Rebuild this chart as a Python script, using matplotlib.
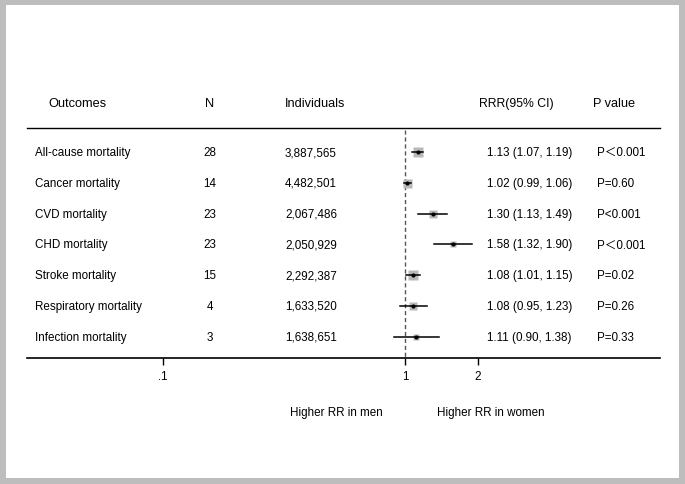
import matplotlib
matplotlib.use("Agg")
import matplotlib.pyplot as plt
from matplotlib.patches import Rectangle

plt.rcParams['font.family'] = ['Liberation Sans', 'Noto Sans CJK SC', 'DejaVu Sans']

# data
outcomes = ['All-cause mortality', 'Cancer mortality', 'CVD mortality', 'CHD mortality',
            'Stroke mortality', 'Respiratory mortality', 'Infection mortality']
n_studies = ['28', '14', '23', '23', '15', '4', '3']
individuals = ['3,887,565', '4,482,501', '2,067,486', '2,050,929',
               '2,292,387', '1,633,520', '1,638,651']
rrr = [1.13, 1.02, 1.30, 1.58, 1.08, 1.08, 1.11]
lo = [1.07, 0.99, 1.13, 1.32, 1.01, 0.95, 0.90]
hi = [1.19, 1.06, 1.49, 1.90, 1.15, 1.23, 1.38]
p_text = ['P\uff1c0.001', 'P=0.60', 'P<0.001', 'P\uff1c0.001', 'P=0.02', 'P=0.26', 'P=0.33']
weights = [10, 9, 8, 6, 9.5, 8, 6.5]   # box sizes in px
ticks = [0.1, 1, 2]
tick_labels = ['.1', '1', '2']

fig = plt.figure(figsize=(6.85, 4.85), dpi=100)
fig.patch.set_facecolor('#bdbdbd')
fig.patches.append(Rectangle((6 / 685, 6 / 485), 673 / 685, 473 / 485,
                             transform=fig.transFigure, facecolor='white',
                             edgecolor='none', zorder=-10))

ax = fig.add_axes([27 / 685, 126 / 485, 633 / 685, 269 / 485])
ax.set_zorder(5)
ax.set_facecolor('none')
ax.set_xscale('log')
ax.set_xlim(0.0274, 11.32)
ax.set_ylim(6.69, -2.05)

for s in ['top', 'left', 'right']:
    ax.spines[s].set_visible(False)
ax.spines['bottom'].set_linewidth(1.2)
ax.set_yticks([])
ax.set_xticks(ticks)
ax.set_xticklabels(tick_labels)
ax.minorticks_off()
ax.tick_params(axis='x', length=5, width=1, pad=4, labelsize=8.4)

fs = 8.4
hfs = 9.2
tr = ax.get_yaxis_transform()

# header
ax.text(0.0332, -1.59, 'Outcomes', transform=tr, fontsize=hfs, va='center')
ax.text(0.289, -1.59, 'N', transform=tr, fontsize=hfs, va='center', ha='center')
ax.text(0.4076, -1.59, 'Individuals', transform=tr, fontsize=hfs, va='center')
ax.text(0.714, -1.59, 'RRR(95% CI)', transform=tr, fontsize=8.8, va='center')
ax.text(0.894, -1.59, 'P value', transform=tr, fontsize=hfs, va='center')
ax.plot([0, 1], [-0.78, -0.78], transform=tr, color='black', lw=1, clip_on=False)

# null line
ax.plot([1, 1], [-0.72, 6.69], color='#555555', lw=1, ls=(0, (3, 2)), clip_on=False)

for i in range(len(outcomes)):
    ax.text(0.0126, i, outcomes[i], transform=tr, fontsize=fs, va='center')
    ax.text(0.289, i, n_studies[i], transform=tr, fontsize=fs, va='center', ha='center')
    ax.text(0.4076, i, individuals[i], transform=tr, fontsize=fs, va='center')
    ax.text(0.727, i, '%.2f (%.2f, %.2f)' % (rrr[i], lo[i], hi[i]), transform=tr,
            fontsize=fs, va='center')
    ax.text(0.9005, i, p_text[i], transform=tr, fontsize=fs, va='center')
    ax.plot([lo[i], hi[i]], [i, i], color='black', lw=1.1, zorder=3)
    ax.plot(rrr[i], i, marker='s', ms=weights[i] * 0.72, color='#b8b8b8',
            mec='none', zorder=2)
    ax.plot(rrr[i], i, marker='o', ms=3, color='black', mec='none', zorder=4)

ax.text(0.488, 8.44, 'Higher RR in men', transform=tr, fontsize=fs,
        ha='center', va='center')
ax.text(0.732, 8.44, 'Higher RR in women', transform=tr, fontsize=fs,
        ha='center', va='center')

fig.savefig('out.png', dpi=100)
